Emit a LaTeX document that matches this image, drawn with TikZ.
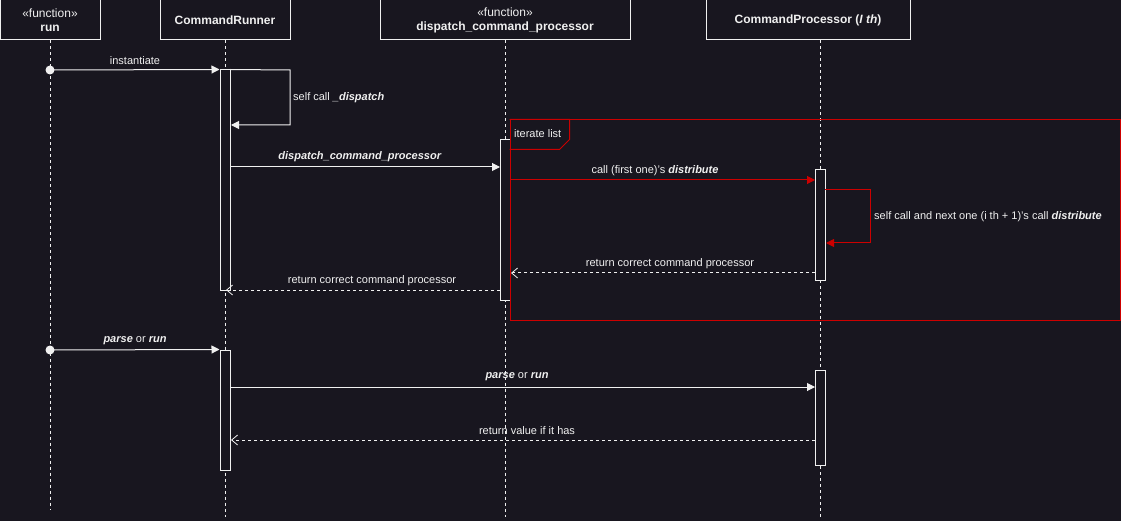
\documentclass[tikz,border=0pt]{standalone}
\usepackage{fontspec}
\setmainfont{Liberation Sans}
\usetikzlibrary{arrows.meta}
\definecolor{bg}{RGB}{24,22,31}
\definecolor{fg}{RGB}{240,240,240}
\definecolor{rd}{RGB}{204,0,0}
\begin{document}
\begin{tikzpicture}[x=1pt,y=-1pt,
  hdr/.style={draw=fg, fill=bg, line width=1pt, text=fg, minimum height=40pt, inner sep=0pt, align=center, font=\fontsize{12}{14}\selectfont},
  act/.style={draw=fg, fill=bg, line width=1pt, minimum width=10pt, inner sep=0pt},
  life/.style={draw=fg, dash pattern=on 3pt off 3pt, line width=0.8pt},
  msg/.style={draw=fg, line width=1pt, -{Triangle[length=8pt,width=8pt]}},
  rmsg/.style={draw=rd, line width=1pt, -{Triangle[length=8pt,width=8pt]}},
  ret/.style={draw=fg, line width=1pt, dash pattern=on 3pt off 3pt, -{Straight Barb[length=6pt,width=10pt,line width=0.8pt]}},
  lbl/.style={text=fg, font=\fontsize{11}{13}\selectfont, inner sep=0pt},
  dot/.style={circle, fill=fg, minimum size=9pt, inner sep=0pt}]
\fill[bg] (0,0) rectangle (1121,521);
\useasboundingbox (0,0) rectangle (1121,521);

% headers
\node[hdr, minimum width=100pt] (run) at (50,20) {«function»\\\textbf{run}};
\node[hdr, minimum width=130pt] (cr) at (225,20) {\textbf{CommandRunner}};
\node[hdr, minimum width=250pt] (dcp) at (505,20) {«function»\\\textbf{dispatch\_command\_processor}};
\node[hdr, minimum width=204pt] (cp) at (808,20) {\textbf{CommandProcessor (\textit{I th})}};

% lifeline ends
\coordinate (runEnd) at (50,510);
\coordinate (crEnd) at (225,517);
\coordinate (dcpEnd) at (505,517);
\coordinate (cpEnd) at (820,517);
\coordinate (cpTop) at (820,40);
\draw[life] (run.south) -- (runEnd);
\draw[life] (cr.south) -- (crEnd);
\draw[life] (dcp.south) -- (dcpEnd);
\draw[life] (cpTop) -- (cpEnd);

% activations
\node[act, minimum height=220pt] (a1) at (225,180) {};
\node[act, minimum height=160pt] (a2) at (505,220) {};
\node[act, minimum height=110pt] (a3) at (820,225) {};
\node[act, minimum height=120pt] (a4) at (225,410) {};
\node[act, minimum height=95pt] (a5) at (820,417.5) {};

% loop frame
\node[draw=rd, line width=1pt, minimum width=610pt, minimum height=200pt, inner sep=0pt] (loop) at (815,220) {};
\draw[rd, line width=1pt] (loop.north west) -- ++(60,0) -- ++(0,20) -- ++(-10,10) -- ++(-50,0);
\node[lbl, anchor=west] (looplbl) at (514,134) {iterate list};

% message 1: instantiate
\node[dot] (d1) at (50,70) {};
\draw[msg] (d1.center) -- (a1.north west);
\node[lbl] (l1) at (135,61) {instantiate};

% self call _dispatch
\coordinate (s1a) at (290,70);
\coordinate (s1b) at (231,125);
\draw[msg] (a1.north east) -- (s1a) |- (s1b);
\node[lbl, anchor=west] (l2) at (293,98) {self call \textbf{\textit{\_dispatch}}};

% dispatch_command_processor
\coordinate (m3a) at (230,167);
\coordinate (m3b) at (500,167);
\draw[msg] (m3a) -- (m3b);
\node[lbl] (l3) at (360,157) {\textbf{\textit{dispatch\_command\_processor}}};

% call first distribute
\coordinate (m4a) at (510,180);
\coordinate (m4b) at (815,180);
\draw[rmsg] (m4a) -- (m4b);
\node[lbl] (l4) at (655,171) {call (first one)'s \textbf{\textit{distribute}}};

% red self call
\coordinate (s2s) at (825,190);
\coordinate (s2a) at (870,190);
\coordinate (s2b) at (826,243);
\draw[rmsg] (s2s) -- (s2a) |- (s2b);
\node[lbl, anchor=west] (l5) at (874,217) {self call and next one (i th + 1)'s call \textbf{\textit{distribute}}};

% return from CP
\coordinate (r1a) at (815,273);
\coordinate (r1b) at (511,273);
\draw[ret] (r1a) -- (r1b);
\node[lbl] (l6) at (670,264) {return correct command processor};

% return to runner
\coordinate (r2a) at (500,290);
\coordinate (r2b) at (226,290);
\draw[ret] (r2a) -- (r2b);
\node[lbl] (l7) at (372,281) {return correct command processor};

% parse or run 1
\node[dot] (d2) at (50,350) {};
\draw[msg] (d2.center) -- (a4.north west);
\node[lbl] (l8) at (135,341) {\textbf{\textit{parse}} or \textbf{\textit{run}}};

% parse or run 2
\coordinate (m9a) at (230,387);
\coordinate (m9b) at (815,387);
\draw[msg] (m9a) -- (m9b);
\node[lbl] (l9) at (517,377) {\textbf{\textit{parse}} or \textbf{\textit{run}}};

% return value
\coordinate (r3a) at (815,440);
\coordinate (r3b) at (231,440);
\draw[ret] (r3a) -- (r3b);
\node[lbl] (l10) at (527,431) {return value if it has};
\end{tikzpicture}
\end{document}
